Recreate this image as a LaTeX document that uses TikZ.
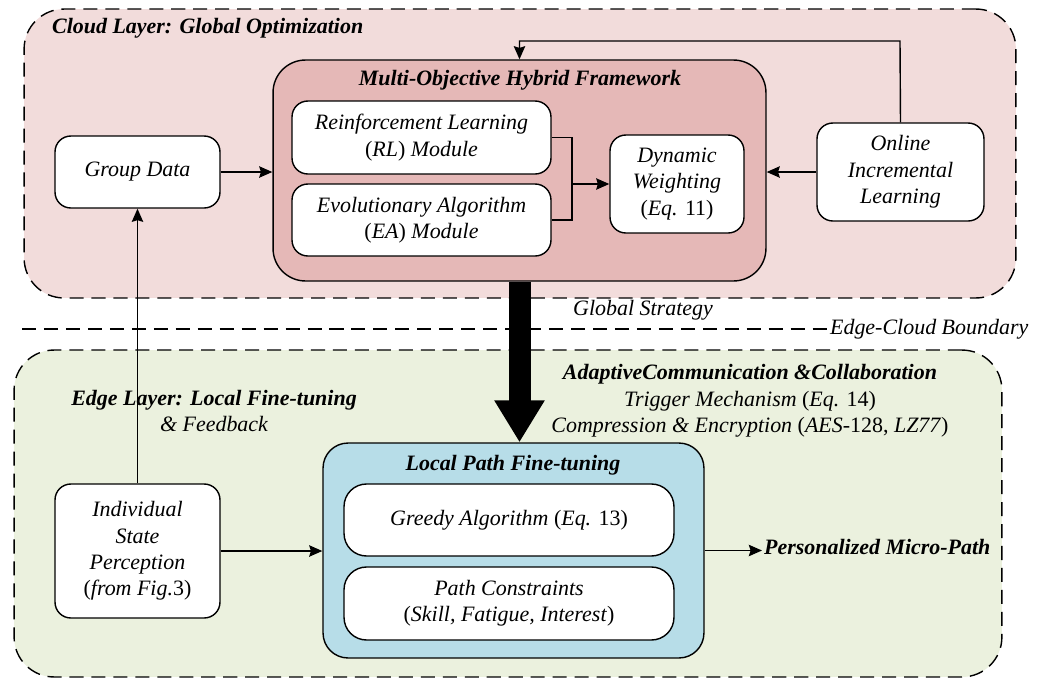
\documentclass[tikz,border=0pt]{standalone}
\usepackage{fontspec}
\setmainfont{Liberation Serif}
\usetikzlibrary{arrows,arrows.meta,positioning}
\definecolor{cloudbg}{HTML}{F2DCDB}
\definecolor{hybridbg}{HTML}{E5B8B7}
\definecolor{edgebg}{HTML}{EBF1DE}
\definecolor{localbg}{HTML}{B7DDE8}
\tikzset{layer/.style={draw,line width=0.8pt,dash pattern=on 8pt off 4.5pt,rounded corners=0.8cm,inner sep=0pt}}
\tikzset{box/.style={draw,fill=white,line width=0.8pt,rounded corners=9pt,align=center,font=\itshape}}
\tikzset{frame/.style={draw,line width=0.8pt,rounded corners=0.65cm,inner sep=0pt}}
\tikzset{heading/.style={font=\bfseries\itshape,inner sep=1pt}}
\tikzset{note/.style={font=\itshape,align=center,inner sep=1pt}}
\tikzset{flow/.style={-{Stealth[length=7.5pt,width=6.5pt,inset=1pt]},line width=0.8pt}}
\tikzset{bigflow/.style={line width=0.44cm,-{Triangle[length=0.84cm,width=0.95cm]}}}

\begin{document}
\begin{tikzpicture}[x=0.02cm,y=-0.02cm]\fontsize{12.5}{15}\selectfont
  \useasboundingbox (0,0) rectangle (1046,680);
  % layers
  \node[layer,fill=cloudbg,minimum width=19.84cm,minimum height=5.78cm] (cloud) at (520,153.5) {};
  \node[layer,fill=edgebg,minimum width=19.76cm,minimum height=6.54cm] (edge) at (508,513.5) {};
  \node[heading,anchor=west] (cloudtitle) at (50,28) {Cloud Layer: Global Optimization};
  \node[note,font=\itshape] (edgetitle) at (214,411) {\textbf{Edge Layer: Local Fine-tuning}\\\& Feedback};
  % boundary
  \node[note,anchor=west] (bound) at (828,329) {Edge-Cloud Boundary};
  \coordinate (bstart) at (22,329);
  \draw[line width=0.8pt,dash pattern=on 8pt off 4.5pt] (bstart) -- (bound.west);
  % cloud layer
  \node[frame,fill=hybridbg,minimum width=9.86cm,minimum height=4.42cm] (mohf) at (519.5,170.5) {};
  \node[heading] (mohftitle) at (520,80) {Multi-Objective Hybrid Framework};
  \node[box,minimum width=5.18cm,minimum height=1.46cm] (rl) at (421.5,137.5) {Reinforcement Learning\\\upshape(\textit{RL}) \textit{Module}};
  \node[box,minimum width=5.18cm,minimum height=1.44cm] (ea) at (421.5,220) {Evolutionary Algorithm\\\upshape(\textit{EA}) \textit{Module}};
  \node[box,minimum width=2.68cm,minimum height=1.96cm] (dyn) at (677,184) {Dynamic\\Weighting\\\upshape(\textit{Eq.} 11)};
  \node[box,minimum width=3.3cm,minimum height=1.44cm] (group) at (137.5,172) {Group Data};
  \node[box,minimum width=3.34cm,minimum height=1.96cm] (online) at (900.5,172) {Online\\Incremental\\Learning};
  \coordinate (merge) at (572,184);
  \coordinate (fb) at (900,41);
  \draw[line width=0.8pt] (rl.east) -| (merge) |- (ea.east);
  \draw[flow] (merge) -- (dyn.west);
  \draw[flow] (group.east) -- (group.east -| mohf.west);
  \draw[flow] (online.west) -- (online.west -| mohf.east);
  \draw[flow] (online.north) -- (fb) -| (mohf.north);
  % edge layer
  \node[note] (strategy) at (643,310) {Global Strategy};
  \node[note] (adaptive) at (750,401) {\textbf{AdaptiveCommunication \&Collaboration}\\Trigger Mechanism \upshape(\textit{Eq.} 14)\\Compression \& Encryption \upshape(\textit{AES}-128, \textit{LZ77})};
  \node[frame,fill=localbg,rounded corners=0.5cm,minimum width=7.62cm,minimum height=4.3cm] (local) at (513.5,550.5) {};
  \node[heading] (localtitle) at (513,465) {Local Path Fine-tuning};
  \node[box,rounded corners=0.45cm,minimum width=6.6cm,minimum height=1.44cm] (greedy) at (509,520) {Greedy Algorithm \upshape(\textit{Eq.} 13)};
  \node[box,rounded corners=0.45cm,minimum width=6.6cm,minimum height=1.46cm] (constr) at (509,603.5) {Path Constraints\\\upshape(\textit{Skill, Fatigue, Interest})};
  \node[box,minimum width=3.3cm,minimum height=2.68cm] (indiv) at (137.5,551) {Individual\\State\\Perception\\\upshape(\textit{from Fig.}3)};
  \node[heading,anchor=west] (micro) at (762,547) {Personalized Micro-Path};
  \draw[bigflow] (mohf.south) -- (mohf.south |- local.north);
  \draw[flow] (indiv.north) -- (group.south);
  \draw[flow] (indiv.east) -- (indiv.east -| local.west);
  \draw[flow] (local.east) -- (local.east -| micro.west);
\end{tikzpicture}
\end{document}
